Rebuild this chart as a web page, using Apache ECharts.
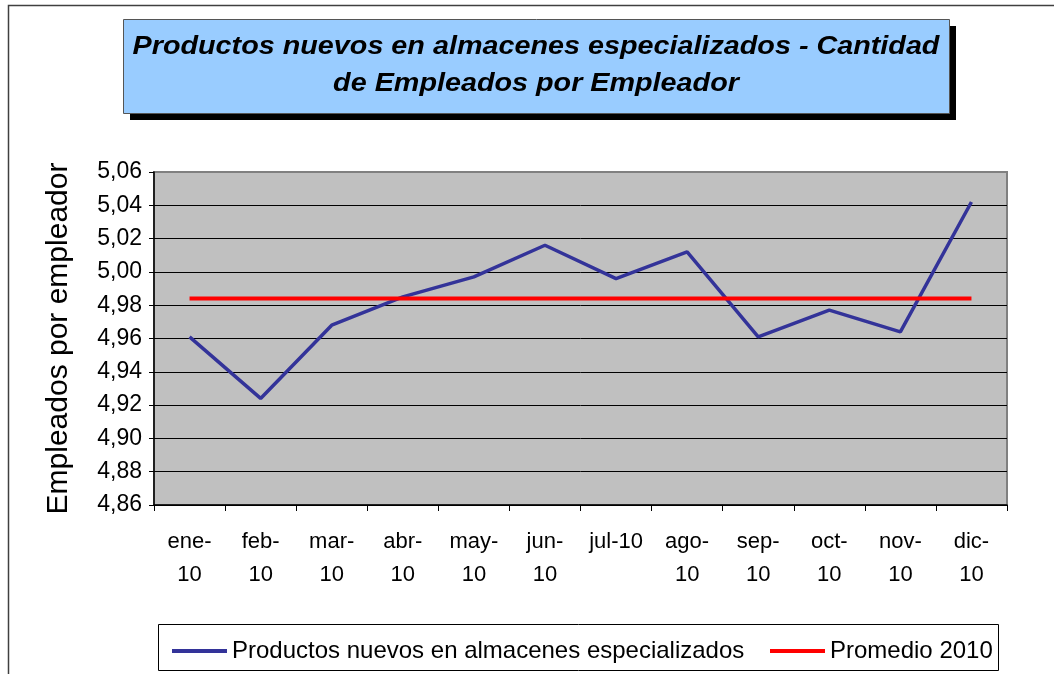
<!DOCTYPE html>
<html>
<head>
<meta charset="utf-8">
<script src="https://cdn.jsdelivr.net/npm/echarts@6/dist/echarts.min.js"></script>
<style>
html,body{margin:0;padding:0;background:#fff;}
#chart{width:1054px;height:674px;}
</style>
</head>
<body>
<div id="chart"></div>
<script>
const titleText = 'Productos nuevos en almacenes especializados - Cantidad\nde Empleados por Empleador';
const yAxisName = 'Empleados por empleador';
const categories = ['ene-\n10','feb-\n10','mar-\n10','abr-\n10','may-\n10','jun-\n10','jul-10','ago-\n10','sep-\n10','oct-\n10','nov-\n10','dic-\n10'];
const seriesNames = ['Productos nuevos en almacenes especializados','Promedio 2010'];
const productosValues = [4.961, 4.924, 4.968, 4.985, 4.997, 5.016, 4.996, 5.012, 4.961, 4.977, 4.964, 5.042];
const promedioValues = [4.984, 4.984, 4.984, 4.984, 4.984, 4.984, 4.984, 4.984, 4.984, 4.984, 4.984, 4.984];
const yMin = 4.86, yMax = 5.06, yStep = 0.02;

const FONT = 'Liberation Sans, Arial, sans-serif';
const chart = echarts.init(document.getElementById('chart'), null, {renderer:'canvas'});
const splitColors = ['#000','#000','#000','#000','#000','#000','#000','#000','#000','#000','#808080'];

chart.setOption({
  animation:false,
  backgroundColor:'#fff',
  graphic:[
    {type:'rect', z:-10, shape:{x:8.5,y:5.5,width:1100,height:720}, style:{fill:'#fff',stroke:'#404040',lineWidth:1.5}},
    {type:'rect', z:1, shape:{x:130,y:26,width:826,height:94}, style:{fill:'#000'}},
    {type:'rect', z:2, shape:{x:123.5,y:19.5,width:826,height:94}, style:{fill:'#99CCFF',stroke:'#555',lineWidth:1}},
    {type:'text', z:3, x:536, y:66, scaleX:1.15, style:{text:titleText, fill:'#000', font:'italic bold 25px '+FONT, textAlign:'center', textVerticalAlign:'middle', lineHeight:37}},
    {type:'rect', z:1, shape:{x:158.5,y:624.5,width:840,height:46}, style:{fill:'#fff',stroke:'#000',lineWidth:1}}
  ],
  legend:[
    {data:[seriesNames[0]], left:167, top:634, icon:'rect', itemWidth:55, itemHeight:4, z:5,
     textStyle:{fontFamily:FONT,fontSize:24,color:'#000'}},
    {data:[seriesNames[1]], left:765, top:634, icon:'rect', itemWidth:55, itemHeight:4, z:5,
     textStyle:{fontFamily:FONT,fontSize:24,color:'#000'}}
  ],
  grid:{left:154, right:47, top:172, bottom:169, show:true, backgroundColor:'#C0C0C0', borderColor:'#808080', borderWidth:2},
  xAxis:{
    type:'category', data:categories, boundaryGap:true,
    axisLine:{lineStyle:{color:'#000',width:1.5}},
    axisTick:{show:true, length:6, inside:false, lineStyle:{color:'#000'}},
    axisLabel:{interval:0, fontFamily:FONT, fontSize:22, color:'#000', lineHeight:33, margin:20}
  },
  yAxis:{
    type:'value', min:yMin, max:yMax, interval:yStep,
    name:yAxisName, nameLocation:'middle', nameGap:80,
    nameTextStyle:{fontFamily:FONT, fontSize:30, color:'#000'},
    axisLine:{show:true, lineStyle:{color:'#000',width:1.5}},
    axisTick:{show:true, length:5, lineStyle:{color:'#000'}},
    axisLabel:{fontFamily:FONT, fontSize:23, color:'#000', margin:12,
      formatter:function(v){return v.toFixed(2).replace('.',',');}},
    splitLine:{show:true, lineStyle:{color:splitColors, width:1}}
  },
  series:[
    {name:seriesNames[0], type:'line', data:productosValues, showSymbol:false, symbol:'none',
     lineStyle:{color:'#333399', width:3.5}, itemStyle:{color:'#333399'}, z:3},
    {name:seriesNames[1], type:'line', data:promedioValues, showSymbol:false, symbol:'none',
     lineStyle:{color:'#FF0000', width:4}, itemStyle:{color:'#FF0000'}, z:4}
  ]
});
</script>
</body>
</html>
